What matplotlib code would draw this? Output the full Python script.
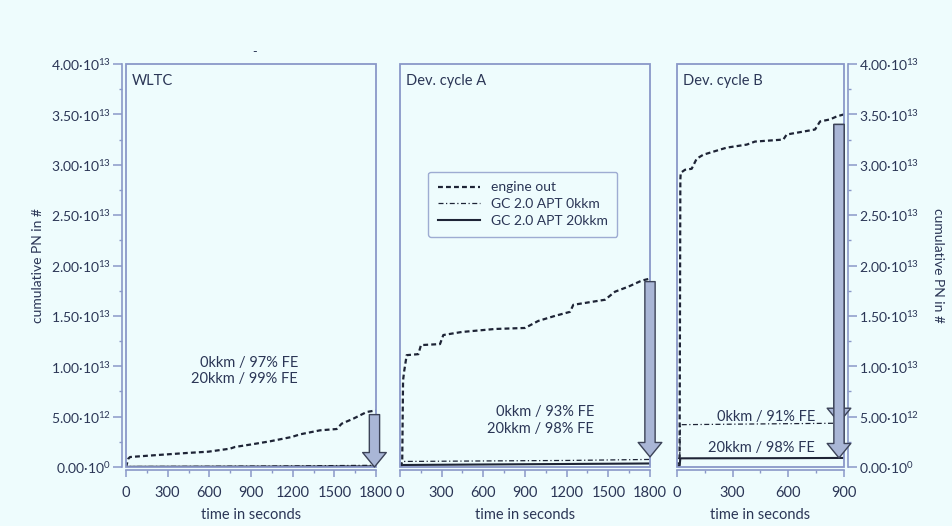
import math
import matplotlib
matplotlib.use("Agg")
import matplotlib.pyplot as plt
from matplotlib.patches import Rectangle
from matplotlib.ticker import MultipleLocator, FuncFormatter

plt.rcParams["font.family"] = ["Lato", "DejaVu Sans"]
plt.rcParams["mathtext.fontset"] = "custom"
plt.rcParams["mathtext.rm"] = "Lato"

BG = "#eefcfd"
TXT = "#2b3656"
FRAME = "#8a98c8"
LINE = "#1e2436"
ARROW_FC = "#a9b6d6"
ARROW_EC = "#3c4358"

# WLTC
wltc_t = [0, 17, 29, 197, 437, 593, 749, 785, 893, 1037, 1193, 1253, 1397,
          1517, 1553, 1637, 1733, 1800]
wltc_eo = [0, 0.83e12, 0.99e12, 1.16e12, 1.39e12, 1.52e12, 1.82e12, 1.99e12,
           2.22e12, 2.55e12, 2.98e12, 3.24e12, 3.64e12, 3.77e12, 4.30e12,
           4.80e12, 5.46e12, 5.62e12]
wltc_t_gc = [0, 30, 600, 1200, 1800]
wltc_0kkm = [0, 0.05e12, 0.07e12, 0.11e12, 0.17e12]
wltc_20kkm = [0, 0.02e12, 0.03e12, 0.04e12, 0.06e12]

# Dev. cycle A
deva_t = [0, 16, 22, 30, 48, 132, 151, 288, 312, 444, 684, 900, 996, 1116,
          1224, 1248, 1476, 1548, 1644, 1740, 1800]
deva_eo = [0, 0.05e13, 0.86e13, 0.95e13, 1.11e13, 1.12e13, 1.21e13, 1.22e13,
           1.31e13, 1.34e13, 1.37e13, 1.38e13, 1.45e13, 1.50e13, 1.54e13,
           1.61e13, 1.66e13, 1.74e13, 1.79e13, 1.85e13, 1.87e13]
deva_t_gc = [0, 20, 600, 1200, 1800]
deva_0kkm = [0, 0.055e13, 0.06e13, 0.065e13, 0.075e13]
deva_20kkm = [0, 0.02e13, 0.025e13, 0.03e13, 0.035e13]

# Dev. cycle B
devb_t = [0, 14, 18, 20, 43, 79, 106, 142, 268, 376, 420, 573, 591, 744, 771,
          825, 861, 900]
devb_eo = [0, 0.1e13, 2.85e13, 2.92e13, 2.95e13, 2.96e13, 3.06e13, 3.10e13,
           3.17e13, 3.20e13, 3.23e13, 3.25e13, 3.30e13, 3.35e13, 3.43e13,
           3.45e13, 3.48e13, 3.50e13]
devb_t_gc = [0, 14, 18, 300, 600, 900]
devb_0kkm = [0, 0.02e13, 0.42e13, 0.425e13, 0.43e13, 0.435e13]
devb_20kkm = [0, 0.01e13, 0.086e13, 0.087e13, 0.088e13, 0.09e13]

cycle_names = ["WLTC", "Dev. cycle A", "Dev. cycle B"]
fe_0kkm = ["0kkm / 97% FE", "0kkm / 93% FE", "0kkm / 91% FE"]
fe_20kkm = ["20kkm / 99% FE", "20kkm / 98% FE", "20kkm / 98% FE"]

# arrows: x, top, tips
arrow_x = [1789, 1800, 873]
arrow_top = [0.52e13, 1.84e13, 3.40e13]
arrow_tips = [[0.0], [0.10e13], [0.44e13, 0.09e13]]

# label anchors (right aligned)
fe_x = [1238, 1397, 744]
fe_y0 = [1.03e13, 0.546e13, 0.50e13]
fe_y20 = [0.87e13, 0.377e13, 0.19e13]


def sci_fmt(v, pos):
    if v < -1:
        return ""
    if abs(v) < 1:
        return "0.00·10$^{0}$"
    e = int(math.floor(math.log10(v) + 1e-9))
    m = v / 10 ** e
    return "%.2f·10$^{%d}$" % (m, e)


fig = plt.figure(figsize=(9.53, 5.26), dpi=100, facecolor=BG)
W, H = 953, 526
boxes = [(126, 376), (400, 650), (677, 844)]
top_px, bot_px = 64, 467
series = [
    (wltc_t, wltc_eo, wltc_t_gc, wltc_0kkm, wltc_20kkm, 1800),
    (deva_t, deva_eo, deva_t_gc, deva_0kkm, deva_20kkm, 1800),
    (devb_t, devb_eo, devb_t_gc, devb_0kkm, devb_20kkm, 900),
]

axes = []
for i, (x0, x1) in enumerate(boxes):
    ax = fig.add_axes([x0 / W, 1 - bot_px / H, (x1 - x0) / W, (bot_px - top_px) / H])
    ax.set_facecolor("none")
    t, eo, tg, g0, g20, tmax = series[i]
    ax.plot(t, eo, color=LINE, lw=1.6, ls=(0, (2.2, 1.4)), label="engine out")
    ax.plot(tg, g0, color=LINE, lw=0.9, ls=(0, (4, 2, 1, 2)), label="GC 2.0 APT 0kkm")
    ax.plot(tg, g20, color=LINE, lw=1.5, ls="-", label="GC 2.0 APT 20kkm")
    ax.set_xlim(0, tmax)
    ax.set_ylim(0, 4.0e13)

    for s in ax.spines.values():
        s.set_visible(False)
    ax.add_patch(Rectangle((0, 0), 1, 1, transform=ax.transAxes, fill=False,
                           ec=FRAME, lw=1.3, clip_on=False, zorder=5))
    ax.spines["bottom"].set_visible(True)
    ax.spines["bottom"].set_position(("outward", 2.5))
    ax.spines["bottom"].set_color(FRAME)
    ax.spines["bottom"].set_linewidth(1.2)
    ax.xaxis.set_major_locator(MultipleLocator(300))
    ax.xaxis.set_minor_locator(MultipleLocator(150))
    ax.tick_params(axis="x", which="major", direction="out", length=5,
                   color=FRAME, width=1.1, labelsize=10.5, labelcolor=TXT, pad=6)
    ax.tick_params(axis="x", which="minor", direction="out", length=2.5,
                   color=FRAME, width=1.0)
    ax.set_xlabel("time in seconds", fontsize=10.5, color=TXT, labelpad=6)

    ax.yaxis.set_major_locator(MultipleLocator(0.5e13))
    ax.yaxis.set_minor_locator(MultipleLocator(0.25e13))
    ax.yaxis.set_major_formatter(FuncFormatter(sci_fmt))
    if i == 0:
        side = "left"
    elif i == 2:
        side = "right"
    else:
        side = None
    if side:
        ax.spines[side].set_visible(True)
        ax.spines[side].set_position(("outward", 3))
        ax.spines[side].set_color(FRAME)
        ax.spines[side].set_linewidth(1.2)
        ax.yaxis.set_ticks_position(side)
        ax.yaxis.set_label_position(side)
        ax.tick_params(axis="y", which="major", direction="out", length=6.5,
                       color=FRAME, width=1.1, labelsize=10, labelcolor=TXT, pad=1.5)
        ax.tick_params(axis="y", which="minor", direction="out", length=2.5,
                       color=FRAME, width=1.0)
        ax.set_ylabel("cumulative PN in #", fontsize=10, color=TXT,
                      rotation=90 if side == "left" else 270,
                      labelpad=5 if side == "left" else 18)
    else:
        ax.set_yticks([])
        ax.tick_params(axis="y", which="both", left=False, labelleft=False)

    ax.text(6 / (x1 - x0), 1 - 10 / (bot_px - top_px), cycle_names[i],
            transform=ax.transAxes, ha="left", va="top", fontsize=10.5, color=TXT)
    ax.text(fe_x[i], fe_y0[i], fe_0kkm[i], ha="right", va="center",
            fontsize=10.5, color=TXT)
    ax.text(fe_x[i], fe_y20[i], fe_20kkm[i], ha="right", va="center",
            fontsize=10.5, color=TXT)

    for tip in arrow_tips[i]:
        ax.annotate("", xy=(arrow_x[i], tip), xytext=(arrow_x[i], arrow_top[i]),
                    arrowprops=dict(arrowstyle="simple,head_width=0.85,head_length=0.52,tail_width=0.37",
                                    mutation_scale=20, fc=ARROW_FC, ec=ARROW_EC,
                                    lw=1.0, shrinkA=0, shrinkB=0),
                    annotation_clip=False, zorder=6)
    axes.append(ax)

leg = axes[1].legend(loc="upper left", bbox_to_anchor=(0.085, 0.75), fontsize=10,
                     frameon=True, fancybox=True, handlelength=3.0,
                     labelcolor=TXT, borderpad=0.7, labelspacing=0.35)
leg.get_frame().set_facecolor(BG)
leg.get_frame().set_edgecolor(FRAME)
leg.get_frame().set_linewidth(1.0)

fig.text(255 / W, 1 - 52 / H, "-", ha="center", va="center", fontsize=9, color=TXT)

fig.savefig("out.png", dpi=100, facecolor=BG)
